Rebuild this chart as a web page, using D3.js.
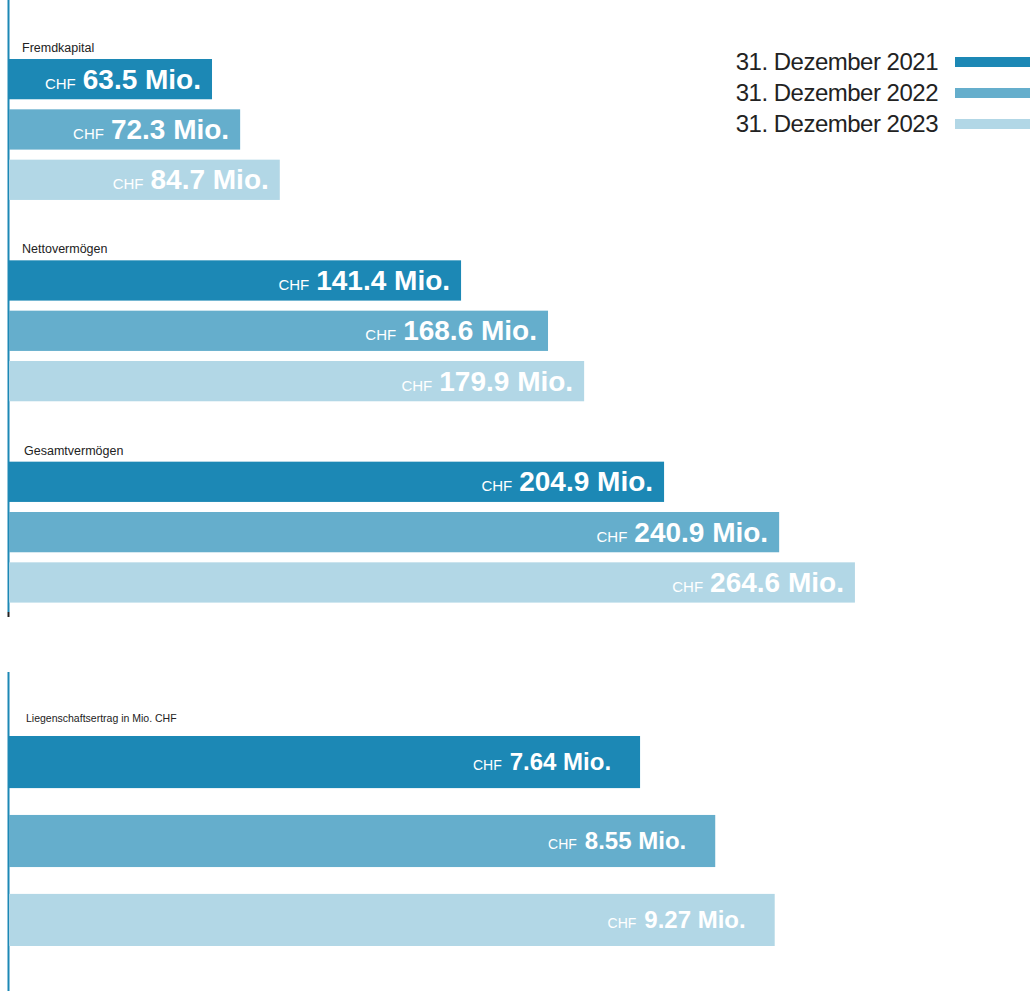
<!DOCTYPE html>
<html>
<head>
<meta charset="utf-8">
<script src="https://cdn.jsdelivr.net/npm/d3@7"></script>
<style>
  html, body { margin: 0; padding: 0; background: #fff; }
  svg { display: block; font-family: "Liberation Sans", Arial, sans-serif; }
</style>
</head>
<body>
<svg id="chart" width="1030" height="991"></svg>
<script>
// Balance sheet figures (CHF millions)
const years = ["2021", "2022", "2023"];
const legendLabels = ["31. Dezember 2021", "31. Dezember 2022", "31. Dezember 2023"];
const groups = ["Fremdkapital", "Nettovermögen", "Gesamtvermögen"];
const fremdkapital = [63.5, 72.3, 84.7];
const nettovermoegen = [141.4, 168.6, 179.9];
const gesamtvermoegen = [204.9, 240.9, 264.6];
// Property income (CHF millions)
const ertragTitle = "Liegenschaftsertrag in Mio. CHF";
const ertrag = [7.64, 8.55, 9.27];

const colors = ["#1c88b5", "#65aecc", "#b2d7e6"];
const axisColor = "#1c88b5";

const svg = d3.select("#chart");
const color = d3.scaleOrdinal().domain(years).range(colors);

// ---------- Upper panel ----------
const groupValues = [fremdkapital, nettovermoegen, gesamtvermoegen];
const x1 = d3.scaleLinear().domain([0, 300]).range([9, 9 + 300 * 3.197]);
const yGroup = d3.scaleBand().domain(groups).range([59, 602.6]).paddingInner(0.3).paddingOuter(0);
const yYear = d3.scaleBand().domain(years).range([0, yGroup.bandwidth()]).paddingInner(0.2);

const upper = svg.append("g");
upper.append("line")
  .attr("x1", 8.5).attr("x2", 8.5).attr("y1", 0).attr("y2", 612)
  .attr("stroke", axisColor).attr("stroke-width", 2);
upper.append("line")
  .attr("x1", 8.5).attr("x2", 8.5).attr("y1", 612).attr("y2", 617)
  .attr("stroke", "#222").attr("stroke-width", 2);

groups.forEach((gName, gi) => {
  const g = upper.append("g").attr("transform", `translate(0,${yGroup(gName)})`);
  g.append("text")
    .attr("x", gi === 2 ? 24 : 22).attr("y", -7)
    .attr("font-size", 12.5).attr("fill", "#222")
    .text(gName);
  const data = years.map((yr, i) => ({ year: yr, value: groupValues[gi][i] }));
  g.selectAll("rect").data(data).join("rect")
    .attr("x", x1(0)).attr("y", d => yYear(d.year))
    .attr("width", d => x1(d.value) - x1(0))
    .attr("height", yYear.bandwidth())
    .attr("fill", d => color(d.year));
  const t = g.selectAll("text.val").data(data).join("text")
    .attr("class", "val")
    .attr("x", d => x1(d.value) - 11)
    .attr("y", d => yYear(d.year) + yYear.bandwidth() / 2 + 9.5)
    .attr("text-anchor", "end")
    .attr("fill", "#fff");
  t.append("tspan").attr("font-size", 15).text("CHF");
  t.append("tspan").attr("dx", 7).attr("font-size", 28).attr("font-weight", "bold")
    .text(d => d.value.toFixed(1) + " Mio.");
});

// ---------- Legend ----------
const legend = svg.append("g");
legendLabels.forEach((lab, i) => {
  const yy = 62 + i * 31;
  legend.append("text")
    .attr("x", 938).attr("y", yy + 8)
    .attr("text-anchor", "end")
    .attr("font-size", 24).attr("letter-spacing", -0.5).attr("fill", "#222")
    .text(lab);
  legend.append("rect")
    .attr("x", 955).attr("y", yy - 5).attr("width", 75).attr("height", 10)
    .attr("fill", colors[i]);
});

// ---------- Lower panel ----------
const x2 = d3.scaleLinear().domain([0, 10]).range([9, 9 + 10 * 82.6]);
const y2 = d3.scaleBand().domain(years).range([736, 946]).paddingInner(0.34);
const lower = svg.append("g");
lower.append("line")
  .attr("x1", 8.5).attr("x2", 8.5).attr("y1", 672).attr("y2", 991)
  .attr("stroke", axisColor).attr("stroke-width", 2);
lower.append("text")
  .attr("x", 26).attr("y", 722)
  .attr("font-size", 10.5).attr("fill", "#222")
  .text(ertragTitle);
const data2 = years.map((yr, i) => ({ year: yr, value: ertrag[i] }));
lower.selectAll("rect").data(data2).join("rect")
  .attr("x", x2(0)).attr("y", d => y2(d.year))
  .attr("width", d => x2(d.value) - x2(0))
  .attr("height", y2.bandwidth())
  .attr("fill", d => color(d.year));
const t2 = lower.selectAll("text.val").data(data2).join("text")
  .attr("class", "val")
  .attr("x", d => x2(d.value) - 29)
  .attr("y", d => y2(d.year) + y2.bandwidth() / 2 + 8)
  .attr("text-anchor", "end")
  .attr("fill", "#fff");
t2.append("tspan").attr("font-size", 14).text("CHF");
t2.append("tspan").attr("dx", 8).attr("font-size", 24).attr("font-weight", "bold")
  .text(d => d.value.toFixed(2) + " Mio.");
</script>
</body>
</html>
